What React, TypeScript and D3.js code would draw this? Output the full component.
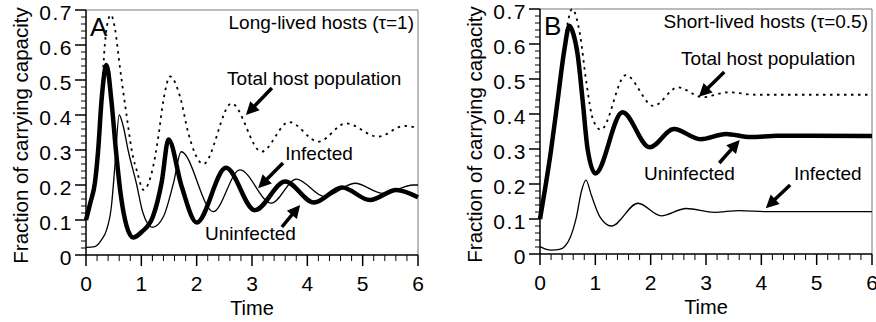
import React from "react";
import * as d3 from "d3";

type Pt = [number, number];

// [time, fraction of carrying capacity]

// Panel A: long-lived hosts (tau = 1)
const uninfectedA: Pt[] = [
  [0, 0.1], [0.08, 0.15], [0.16, 0.205], [0.22, 0.3], [0.28, 0.44], [0.37, 0.543],
  [0.46, 0.44], [0.54, 0.3], [0.63, 0.17], [0.73, 0.085], [0.85, 0.05], [1.0, 0.065],
  [1.21, 0.11], [1.37, 0.21], [1.49, 0.33], [1.73, 0.195], [2.0, 0.093], [2.53, 0.249],
  [3.05, 0.128], [3.6, 0.21], [4.12, 0.15], [4.63, 0.193], [5.13, 0.157], [5.61, 0.186],
  [6.0, 0.165],
];
const infectedA: Pt[] = [
  [0, 0.022], [0.16, 0.024], [0.28, 0.043], [0.37, 0.071], [0.46, 0.14], [0.52, 0.25],
  [0.6, 0.4], [0.67, 0.37], [0.76, 0.3], [0.91, 0.205], [1.03, 0.12], [1.2, 0.079],
  [1.4, 0.11], [1.58, 0.205], [1.72, 0.295], [2.3, 0.124], [2.78, 0.243], [3.35, 0.148],
  [3.8, 0.217], [4.31, 0.167], [4.86, 0.205], [5.37, 0.176], [5.92, 0.2], [6.0, 0.2],
];
const totalA: Pt[] = [
  [0, 0.12], [0.1, 0.17], [0.2, 0.27], [0.28, 0.45], [0.34, 0.6], [0.38, 0.655],
  [0.45, 0.686], [0.52, 0.65], [0.61, 0.54], [0.72, 0.414], [0.85, 0.28], [0.92, 0.24],
  [1.04, 0.186], [1.2, 0.243], [1.3, 0.33], [1.4, 0.443], [1.52, 0.51], [1.7, 0.452],
  [1.85, 0.348], [1.97, 0.29], [2.12, 0.26], [2.63, 0.433], [3.17, 0.295], [3.67, 0.38],
  [4.2, 0.324], [4.7, 0.376], [5.28, 0.338], [5.75, 0.369], [6.0, 0.362],
];

// Panel B: short-lived hosts (tau = 0.5)
const uninfectedB: Pt[] = [
  [0, 0.1], [0.2, 0.297], [0.32, 0.44], [0.44, 0.583], [0.53, 0.652], [0.6, 0.63],
  [0.68, 0.57], [0.77, 0.44], [0.86, 0.3], [1.0, 0.23], [1.49, 0.405], [1.98, 0.305],
  [2.42, 0.357], [2.9, 0.328], [3.36, 0.343], [3.8, 0.334], [4.3, 0.338], [6.0, 0.337],
];
const infectedB: Pt[] = [
  [0, 0.021], [0.1, 0.014], [0.21, 0.011], [0.35, 0.013], [0.45, 0.022], [0.54, 0.045],
  [0.66, 0.107], [0.75, 0.18], [0.83, 0.211], [0.93, 0.167], [1.08, 0.107], [1.29, 0.08],
  [1.77, 0.145], [2.19, 0.109], [2.64, 0.13], [3.15, 0.119], [3.6, 0.124], [4.1, 0.121],
  [6.0, 0.121],
];
const totalB: Pt[] = [
  [0, 0.12], [0.2, 0.3], [0.32, 0.445], [0.42, 0.575], [0.5, 0.66], [0.58, 0.7],
  [0.72, 0.63], [0.84, 0.488], [0.96, 0.383], [1.1, 0.355], [1.55, 0.511], [2.05, 0.423],
  [2.49, 0.476], [2.94, 0.448], [3.4, 0.462], [3.9, 0.455], [6.0, 0.455],
];

const timeTicks = [0, 1, 2, 3, 4, 5, 6];
const fractionTicks = [0, 0.1, 0.2, 0.3, 0.4, 0.5, 0.6, 0.7];

interface Note {
  text: string;
  at: Pt;
}
interface Arrow {
  from: Pt;
  to: Pt;
}

const notesA: Note[] = [
  { text: "Total host population", at: [2.55, 0.486] },
  { text: "Infected", at: [3.6, 0.271] },
  { text: "Uninfected", at: [2.15, 0.043] },
];
const arrowsA: Arrow[] = [
  { from: [3.36, 0.477], to: [2.89, 0.4] },
  { from: [3.56, 0.263], to: [3.11, 0.191] },
  { from: [3.54, 0.08], to: [3.87, 0.143] },
];
const notesB: Note[] = [
  { text: "Total host population", at: [2.55, 0.54] },
  { text: "Uninfected", at: [1.88, 0.211] },
  { text: "Infected", at: [4.59, 0.211] },
];
const arrowsB: Arrow[] = [
  { from: [3.33, 0.52], to: [2.87, 0.449] },
  { from: [3.24, 0.26], to: [3.61, 0.326] },
  { from: [4.52, 0.197], to: [4.08, 0.131] },
];

const FONT = "'Liberation Sans', Arial, Helvetica, sans-serif";

interface PanelProps {
  left: number;
  right: number;
  top: number;
  bottom: number;
  letter: string;
  title: string;
  uninfected: Pt[];
  infected: Pt[];
  total: Pt[];
  notes: Note[];
  arrows: Arrow[];
}

const Panel: React.FC<PanelProps> = ({
  left, right, top, bottom, letter, title, uninfected, infected, total, notes, arrows,
}) => {
  const x = d3.scaleLinear().domain([0, 6]).range([left, right]);
  const y = d3.scaleLinear().domain([0, 0.7]).range([bottom, top]);
  const line = d3
    .line<Pt>()
    .x((d) => x(d[0]))
    .y((d) => y(d[1]))
    .curve(d3.curveMonotoneX);

  const minorX = d3.range(0, 6.001, 0.2).filter((t) => Math.abs(t - Math.round(t)) > 0.01);
  const minorY = d3.range(0, 0.7001, 0.02).filter((v) => Math.abs(v * 10 - Math.round(v * 10)) > 0.01);

  const arrowShape = (a: Arrow, i: number) => {
    const [x0, y0] = [x(a.from[0]), y(a.from[1])];
    const [x1, y1] = [x(a.to[0]), y(a.to[1])];
    const len = Math.hypot(x1 - x0, y1 - y0);
    const ux = (x1 - x0) / len;
    const uy = (y1 - y0) / len;
    const hl = 13;
    const hw = 6.5;
    const bx = x1 - ux * hl;
    const by = y1 - uy * hl;
    const pts = `${x1},${y1} ${bx - uy * hw},${by + ux * hw} ${bx + uy * hw},${by - ux * hw}`;
    return (
      <g key={i}>
        <line x1={x0} y1={y0} x2={bx + ux * 2} y2={by + uy * 2} stroke="#000" strokeWidth={3.5} />
        <polygon points={pts} fill="#000" />
      </g>
    );
  };

  return (
    <g fontFamily={FONT}>
      {/* frame top and right */}
      <path d={`M${left},${top}H${right}V${bottom}`} fill="none" stroke="#777" strokeWidth={1} />

      {/* curves */}
      <path d={line(total) || ""} fill="none" stroke="#000" strokeWidth={1.8} strokeDasharray="2.5,4.5" />
      <path d={line(infected) || ""} fill="none" stroke="#000" strokeWidth={1.3} />
      <path d={line(uninfected) || ""} fill="none" stroke="#000" strokeWidth={4.5} strokeLinejoin="round" />

      {/* axes */}
      <line x1={left} x2={right} y1={bottom} y2={bottom} stroke="#000" strokeWidth={1.5} />
      <line x1={left} x2={left} y1={top} y2={bottom} stroke="#000" strokeWidth={1.5} />
      {timeTicks.map((t) => (
        <g key={`xt${t}`}>
          <line x1={x(t)} x2={x(t)} y1={bottom} y2={bottom + 11} stroke="#000" strokeWidth={1.5} />
          <text x={x(t)} y={bottom + 36} textAnchor="middle" fontSize={21}>
            {t}
          </text>
        </g>
      ))}
      {minorX.map((t) => (
        <line key={`xm${t}`} x1={x(t)} x2={x(t)} y1={bottom} y2={bottom + 6} stroke="#000" strokeWidth={1} />
      ))}
      {fractionTicks.map((v) => (
        <g key={`yt${v}`}>
          <line x1={left - 11} x2={left} y1={y(v)} y2={y(v)} stroke="#000" strokeWidth={1.5} />
          <text x={left - 13} y={y(v) + 10} textAnchor="end" fontSize={21} letterSpacing={1.5}>
            {String(+v.toFixed(1))}
          </text>
        </g>
      ))}
      {minorY.map((v) => (
        <line key={`ym${v}`} x1={left - 5} x2={left} y1={y(v)} y2={y(v)} stroke="#000" strokeWidth={1} />
      ))}

      {/* axis titles */}
      <text x={(left + right) / 2} y={bottom + 60} textAnchor="middle" fontSize={20}>
        Time
      </text>
      <text
        transform={`translate(${left - 58},${(top + bottom) / 2 + 3}) rotate(-90)`}
        textAnchor="middle"
        fontSize={20.5}
      >
        Fraction of carrying capacity
      </text>

      {/* panel letter and title */}
      <text x={left + 4} y={top + 26} fontSize={26}>
        {letter}
      </text>
      <text x={right - 4} y={top + 19} textAnchor="end" fontSize={19}>
        {title}
      </text>

      {/* annotations */}
      {notes.map((n) => (
        <text key={n.text} x={x(n.at[0])} y={y(n.at[1])} fontSize={19}>
          {n.text}
        </text>
      ))}
      {arrows.map(arrowShape)}
    </g>
  );
};

export default function App() {
  return (
    <svg
      width={876}
      height={322}
      viewBox="0 0 876 322"
      style={{ position: "absolute", left: 0, top: 0, background: "#fff" }}
    >
      <rect width={876} height={322} fill="#fff" />
      <Panel
        left={86}
        right={418}
        top={10}
        bottom={255}
        letter="A"
        title="Long-lived hosts (τ=1)"
        uninfected={uninfectedA}
        infected={infectedA}
        total={totalA}
        notes={notesA}
        arrows={arrowsA}
      />
      <Panel
        left={540}
        right={872}
        top={9}
        bottom={254}
        letter="B"
        title="Short-lived hosts (τ=0.5)"
        uninfected={uninfectedB}
        infected={infectedB}
        total={totalB}
        notes={notesB}
        arrows={arrowsB}
      />
    </svg>
  );
}
